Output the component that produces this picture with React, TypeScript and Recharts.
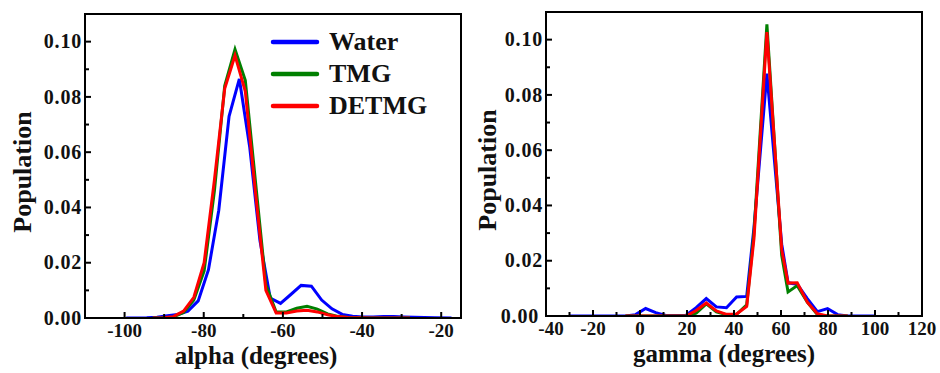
import { LineChart, Line, XAxis, YAxis, Legend, ReferenceArea } from "recharts";

const FONT = '"Liberation Serif", "Times New Roman", serif';

const seriesNames = ["Water", "TMG", "DETMG"];
const seriesColors = ["#0000ff", "#008000", "#ff0000"];

// alpha panel (water sampled on a slightly shifted grid)
const alphaWaterX = [-99.6, -97.0, -94.4, -91.8, -89.2, -86.6, -84.0, -81.4, -78.8, -76.2, -73.6, -71.0, -68.4, -65.8, -63.2, -60.6, -58.0, -55.4, -52.8, -50.2, -47.6, -45.0, -42.4, -39.8, -37.2, -34.6, -32.0, -29.4, -26.8, -24.2, -21.6, -17.4];
const alphaWaterY = [0, 0, 0.0001, 0.0003, 0.0008, 0.0013, 0.0025, 0.0062, 0.0175, 0.039, 0.073, 0.0865, 0.062, 0.028, 0.0072, 0.0053, 0.0085, 0.0118, 0.0115, 0.0065, 0.0033, 0.0013, 0.0006, 0.0004, 0.0004, 0.0005, 0.0005, 0.0004, 0.0003, 0.0002, 0.0001, 0];
const alphaSolventX = [-92.9, -90.3, -87.7, -85.1, -82.5, -79.9, -77.3, -74.7, -72.1, -69.5, -66.9, -64.3, -61.7, -59.1, -56.5, -53.9, -51.3, -48.7, -46.1, -43.5, -40.9, -38.3, -35.7, -33.1, -30.5, -27.9];
const alphaTmgY = [0, 0.0001, 0.0004, 0.002, 0.0065, 0.017, 0.046, 0.084, 0.0972, 0.086, 0.049, 0.012, 0.0022, 0.0022, 0.0035, 0.0042, 0.0032, 0.0015, 0.0006, 0.0002, 0.0001, 0, 0, 0, 0, 0];
const alphaDetmgY = [0, 0.0001, 0.0005, 0.0025, 0.0075, 0.02, 0.05, 0.083, 0.095, 0.082, 0.045, 0.01, 0.0018, 0.0018, 0.0025, 0.0028, 0.0022, 0.0012, 0.0005, 0.0002, 0.0001, 0, 0, 0, 0, 0];

// gamma panel
const gammaX = [-30, -6.2, -1.9, 2.4, 6.7, 11.0, 15.3, 19.6, 23.9, 28.2, 32.5, 36.8, 41.1, 45.4, 48.5, 54.0, 60.3, 63.0, 66.9, 71.2, 75.5, 79.8, 84.1, 88.4, 100];
const gammaWaterY = [0, 0, 0.0005, 0.0027, 0.0012, 0.0002, 0.0002, 0.0003, 0.003, 0.0063, 0.0033, 0.003, 0.0069, 0.0071, 0.032, 0.0877, 0.026, 0.012, 0.0115, 0.0063, 0.0016, 0.0027, 0.0005, 0, 0];
const gammaTmgY = [null, 0, 0, 0, 0, 0, 0, 0, 0.001, 0.0044, 0.0015, 0.0005, 0.0006, 0.004, 0.03, 0.1055, 0.022, 0.0087, 0.011, 0.005, 0.0005, 0, 0, 0, null];
const gammaDetmgY = [null, 0, 0, 0, 0, 0, 0, 0, 0.002, 0.0047, 0.0018, 0.0006, 0.0007, 0.0035, 0.028, 0.1027, 0.024, 0.0119, 0.012, 0.005, 0.0008, 0, 0, 0, null];

const alphaTicks = [-100, -90, -80, -70, -60, -50, -40, -30, -20];
const gammaTicks = [-40, -30, -20, -10, 0, 10, 20, 30, 40, 50, 60, 70, 80, 90, 100, 110, 120];
const yTicks = [0, 0.01, 0.02, 0.03, 0.04, 0.05, 0.06, 0.07, 0.08, 0.09, 0.1];

const toPoints = (xs: number[], ys: (number | null)[]) => xs.map((x, i) => ({ x, y: ys[i] }));

const alphaSeries = [
  toPoints(alphaWaterX, alphaWaterY),
  toPoints(alphaSolventX, alphaTmgY),
  toPoints(alphaSolventX, alphaDetmgY),
];
const gammaSeries = [
  toPoints(gammaX, gammaWaterY),
  toPoints(gammaX, gammaTmgY),
  toPoints(gammaX, gammaDetmgY),
];

function XTick(props: any) {
  const { x, y, payload, edge } = props;
  const v = payload.value;
  const major = v % 20 === 0;
  // label sitting on the panel corner is nudged clear of the 0.00 label
  const dx = v === edge ? 5 : 0;
  return (
    <g>
      <line x1={x} y1={y} x2={x} y2={y - (major ? 6 : 4)} stroke="#000" strokeWidth={2} />
      {major && (
        <text x={x + dx} y={y + 19} textAnchor="middle" fontFamily={FONT} fontWeight="bold" fontSize={19} fill="#111">
          {v}
        </text>
      )}
    </g>
  );
}

function YTick(props: any) {
  const { x, y, payload, zeroShift } = props;
  const v = payload.value;
  const major = Math.round(v * 100) % 2 === 0;
  const dx = v === 0 ? zeroShift || 0 : 0;
  return (
    <g>
      <line x1={x} y1={y} x2={x + (major ? 6 : 4)} y2={y} stroke="#000" strokeWidth={2} />
      {major && (
        <text x={x - 3 + dx} y={y} dy="0.33em" textAnchor="end" fontFamily={FONT} fontWeight="bold" fontSize={20} letterSpacing={0.8} fill="#111">
          {v.toFixed(2)}
        </text>
      )}
    </g>
  );
}

function LegendContent({ payload }: any) {
  const items = [...(payload || [])].sort(
    (a: any, b: any) => seriesNames.indexOf(a.value) - seriesNames.indexOf(b.value)
  );
  return (
    <div>
      {items.map((p: any) => (
        <div key={p.value} style={{ display: "flex", alignItems: "center", height: 32 }}>
          <svg width={50} height={8}>
            <line x1={3} y1={4} x2={47} y2={4} stroke={p.color} strokeWidth={4.5} strokeLinecap="round" />
          </svg>
          <span style={{ marginLeft: 9, fontFamily: FONT, fontWeight: "bold", fontSize: 26, lineHeight: "32px", color: "#111" }}>
            {p.value}
          </span>
        </div>
      ))}
    </div>
  );
}

function Panel({ margin, xDomain, xTicks, xTitle, xTitleShift, yTitleShift, zeroShift, series, legend }: any) {
  return (
    <LineChart width={470} height={373} margin={margin} style={{ fontFamily: FONT }}>
      <XAxis
        type="number"
        dataKey="x"
        domain={xDomain}
        ticks={xTicks}
        interval={0}
        allowDataOverflow
        height={1}
        tickSize={0}
        tickMargin={0}
        tickLine={false}
        axisLine={{ stroke: "#000", strokeWidth: 2 }}
        tick={<XTick edge={xDomain[0]} />}
        label={(p: any) => {
          const vb = p.viewBox;
          return (
            <text x={vb.x + vb.width / 2 + xTitleShift} y={vb.y + 46} textAnchor="middle" fontFamily={FONT} fontWeight="bold" fontSize={25} fill="#111">
              {xTitle}
            </text>
          );
        }}
      />
      <YAxis
        type="number"
        domain={[0, 0.11]}
        ticks={yTicks}
        interval={0}
        allowDataOverflow
        width={1}
        tickSize={0}
        tickMargin={0}
        tickLine={false}
        axisLine={{ stroke: "#000", strokeWidth: 2 }}
        tick={<YTick zeroShift={zeroShift} />}
        label={(p: any) => {
          const vb = p.viewBox;
          const cx = vb.x + vb.width + yTitleShift;
          const cy = vb.y + vb.height / 2 + 6;
          return (
            <text x={cx} y={cy} transform={`rotate(-90, ${cx}, ${cy})`} textAnchor="middle" dominantBaseline="central" fontFamily={FONT} fontWeight="bold" fontSize={26} fill="#111">
              Population
            </text>
          );
        }}
      />
      <ReferenceArea x1={xDomain[0]} x2={xDomain[1]} y1={0} y2={0.11} fill="none" stroke="#000" strokeWidth={2} />
      {series.map((data: any, i: number) => (
        <Line
          key={seriesNames[i]}
          data={data}
          dataKey="y"
          name={seriesNames[i]}
          type="linear"
          stroke={seriesColors[i]}
          strokeWidth={3}
          dot={false}
          activeDot={false}
          isAnimationActive={false}
        />
      ))}
      {legend && (
        <Legend
          layout="vertical"
          align="center"
          verticalAlign="middle"
          wrapperStyle={{ top: 26, left: 270, width: 190, height: 96 }}
          content={LegendContent}
        />
      )}
    </LineChart>
  );
}

export default function App() {
  return (
    <div style={{ position: "absolute", left: 0, top: 0, width: 940, height: 373, background: "#fff", display: "flex" }}>
      <Panel
        margin={{ top: 14, right: 9, bottom: 54, left: 84 }}
        xDomain={[-110, -15]}
        xTicks={alphaTicks}
        xTitle="alpha (degrees)"
        xTitleShift={-17}
        yTitleShift={-63}
        zeroShift={0}
        series={alphaSeries}
        legend
      />
      <Panel
        margin={{ top: 12, right: 18, bottom: 56, left: 75 }}
        xDomain={[-40, 120]}
        xTicks={gammaTicks}
        xTitle="gamma (degrees)"
        xTitleShift={-10}
        yTitleShift={-59}
        zeroShift={-4}
        series={gammaSeries}
        legend={false}
      />
    </div>
  );
}
